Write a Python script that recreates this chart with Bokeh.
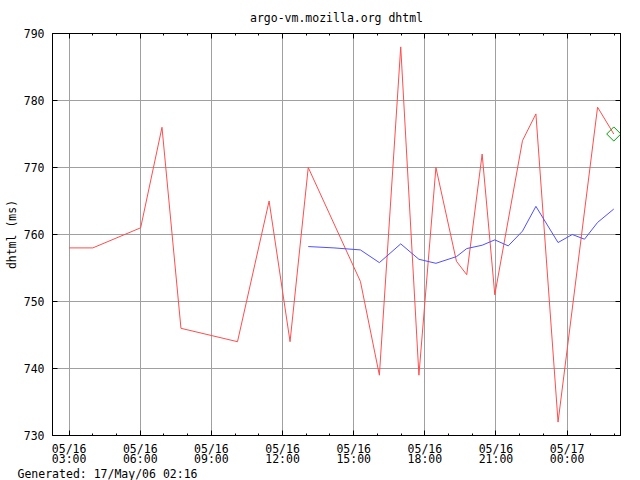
import math
import pandas as pd
from bokeh.plotting import figure
from bokeh.models import (ColumnDataSource, FixedTicker, LinearAxis, DatetimeAxis,
                          Range1d, Title, CustomJSTickFormatter)
from bokeh.embed import file_html
from bokeh.resources import INLINE

# ---------------- data ----------------
red_times = ["2006-05-16 03:00", "2006-05-16 04:00", "2006-05-16 06:01", "2006-05-16 06:55",
             "2006-05-16 07:43", "2006-05-16 10:06", "2006-05-16 11:26", "2006-05-16 12:19",
             "2006-05-16 13:05", "2006-05-16 15:17", "2006-05-16 16:05", "2006-05-16 16:59",
             "2006-05-16 17:45", "2006-05-16 18:28", "2006-05-16 19:20", "2006-05-16 19:46",
             "2006-05-16 20:25", "2006-05-16 20:57", "2006-05-16 22:07", "2006-05-16 22:41",
             "2006-05-16 23:37", "2006-05-17 01:17", "2006-05-17 01:58"]
red_values = [758, 758, 761, 776, 746, 744, 765, 744, 770, 753, 739, 788, 739, 770,
              756, 754, 772, 751, 774, 778, 732, 779, 775]

blue_times = ["2006-05-16 13:05", "2006-05-16 14:10", "2006-05-16 15:17", "2006-05-16 16:05",
              "2006-05-16 16:59", "2006-05-16 17:45", "2006-05-16 18:28", "2006-05-16 19:20",
              "2006-05-16 19:46", "2006-05-16 20:25", "2006-05-16 20:57", "2006-05-16 21:31",
              "2006-05-16 22:07", "2006-05-16 22:41", "2006-05-16 23:37", "2006-05-17 00:13",
              "2006-05-17 00:44", "2006-05-17 01:17", "2006-05-17 01:58"]
blue_values = [758.2, 758.0, 757.7, 755.8, 758.6, 756.3, 755.7, 756.7, 757.9, 758.4,
               759.2, 758.3, 760.5, 764.2, 758.8, 760.0, 759.3, 761.8, 763.8]

last_time = ["2006-05-17 01:58"]
last_value = [775]

tick_times = ["2006-05-16 03:00", "2006-05-16 06:00", "2006-05-16 09:00", "2006-05-16 12:00",
              "2006-05-16 15:00", "2006-05-16 18:00", "2006-05-16 21:00", "2006-05-17 00:00"]
tick_labels = ["05/16\n03:00", "05/16\n06:00", "05/16\n09:00", "05/16\n12:00",
               "05/16\n15:00", "05/16\n18:00", "05/16\n21:00", "05/17\n00:00"]
y_ticks = [730, 740, 750, 760, 770, 780, 790]

title_text = "argo-vm.mozilla.org dhtml"
y_label = "dhtml (ms)"
footer = "Generated: 17/May/06 02:16"
x_start, x_end = "2006-05-16 02:18", "2006-05-17 02:15"

# ---------------- helpers ----------------
def ms(s):
    return pd.Timestamp(s).value / 1e6

FONT = "DejaVu Sans Mono"
FS = "11.5px"

red_src = ColumnDataSource(dict(x=pd.to_datetime(red_times), y=red_values))
blue_src = ColumnDataSource(dict(x=pd.to_datetime(blue_times), y=blue_values))
last_src = ColumnDataSource(dict(x=pd.to_datetime(last_time), y=last_value))

major = [ms(t) for t in tick_times]
minor = [ms("2006-05-16 03:00") + h * 3600e3 for h in range(-1, 24)]

p = figure(x_axis_type="datetime", output_backend="svg", toolbar_location=None,
           width=640, height=480,
           min_border_left=52, min_border_right=20, min_border_top=33, min_border_bottom=45,
           x_range=Range1d(ms(x_start), ms(x_end)), y_range=Range1d(730, 790),
           background_fill_color="white", border_fill_color="white")

p.title.text = title_text
p.title.align = "center"
p.title.vertical_align = "top"
p.title.text_font = FONT
p.title.text_font_size = FS
p.title.text_font_style = "normal"
p.title.text_color = "black"
p.title.standoff = 14

p.outline_line_color = "black"
p.outline_line_width = 1

xt = FixedTicker(ticks=major, minor_ticks=minor)
yt = FixedTicker(ticks=y_ticks, minor_ticks=[])

xa = p.xaxis[0]
xa.ticker = xt
xa.major_label_overrides = {m: l for m, l in zip(major, tick_labels)}
ya = p.yaxis[0]
ya.ticker = yt
ya.axis_label = y_label

for ax in (xa, ya):
    ax.axis_line_color = "black"
    ax.major_tick_in = 5
    ax.major_tick_out = 0
    ax.minor_tick_in = 2
    ax.minor_tick_out = 0
    ax.major_tick_line_color = "black"
    ax.minor_tick_line_color = "black"
    ax.major_label_text_font = FONT
    ax.major_label_text_font_size = FS
    ax.major_label_text_color = "black"
    ax.axis_label_text_font = FONT
    ax.axis_label_text_font_size = FS
    ax.axis_label_text_font_style = "normal"
    ax.axis_label_text_color = "black"
xa.major_label_standoff = 6
xa.major_label_text_line_height = 0.72
ya.major_label_standoff = 8
ya.axis_label_standoff = 2

blank = CustomJSTickFormatter(code="return ''")
top = DatetimeAxis(ticker=xt, formatter=blank, axis_line_color="black",
                   major_tick_in=5, major_tick_out=0, minor_tick_in=2, minor_tick_out=0,
                   major_label_standoff=0)
right = LinearAxis(ticker=yt, formatter=blank, axis_line_color="black",
                   major_tick_in=5, major_tick_out=0, minor_tick_in=0, minor_tick_out=0,
                   major_label_standoff=0)
p.add_layout(top, "above")
p.add_layout(right, "right")

p.add_layout(Title(text=footer, align="left", offset=-35, standoff=-8,
                   text_font=FONT, text_font_size=FS, text_font_style="normal",
                   text_color="black"), "below")

p.xgrid.ticker = xt
p.ygrid.ticker = yt
for g in (p.xgrid[0], p.ygrid[0]):
    g.grid_line_color = "#a0a0a0"
    g.grid_line_width = 1

p.line("x", "y", source=red_src, line_color="#ff4d4d", line_width=1)
p.line("x", "y", source=blue_src, line_color="#5050ff", line_width=1)
p.scatter("x", "y", source=last_src, marker="square", angle=math.pi / 4, size=10,
          fill_color=None, line_color="#00a000", line_width=1)

open("out.html", "w").write(file_html(p, INLINE))
